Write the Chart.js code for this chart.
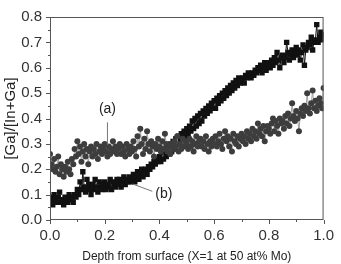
<!DOCTYPE html>
<html>
<head>
<meta charset="utf-8">
<script src="https://cdn.jsdelivr.net/npm/chart.js@4.4.1/dist/chart.umd.min.js"></script>
<style>
  html, body { margin: 0; padding: 0; background: #fff; }
  #wrap { width: 341px; height: 264px; }
</style>
</head>
<body>
<div id="wrap"><canvas id="depthChart" width="341" height="264"></canvas></div>
<script>
// x positions: depth 0.000 .. 1.000 in steps of 0.005
const depth = [];
for (let i = 0; i <= 200; i++) depth.push(i / 200);

// (b) black squares, one row = 0.05 of depth
const seriesB = [
  0.09, 0.08, 0.06, 0.10, 0.08, 0.07, 0.09, 0.11, 0.07, 0.08,
  0.06, 0.09, 0.08, 0.07, 0.10, 0.08, 0.09, 0.07, 0.10, 0.09,
  0.12, 0.10, 0.15, 0.12, 0.19, 0.13, 0.11, 0.16, 0.12, 0.14,
  0.10, 0.14, 0.12, 0.16, 0.13, 0.11, 0.15, 0.13, 0.12, 0.14,
  0.15, 0.12, 0.14, 0.13, 0.16, 0.12, 0.15, 0.14, 0.13, 0.16,
  0.14, 0.16, 0.13, 0.15, 0.17, 0.14, 0.16, 0.15, 0.17, 0.15,
  0.16, 0.18, 0.15, 0.17, 0.19, 0.16, 0.18, 0.20, 0.17, 0.19,
  0.20, 0.18, 0.21, 0.20, 0.22, 0.21, 0.23, 0.22, 0.24, 0.23,
  0.25, 0.23, 0.27, 0.24, 0.28, 0.25, 0.29, 0.26, 0.30, 0.27,
  0.31, 0.28, 0.32, 0.30, 0.33, 0.31, 0.34, 0.32, 0.35, 0.33,
  0.36, 0.34, 0.37, 0.35, 0.39, 0.36, 0.40, 0.37, 0.41, 0.38,
  0.42, 0.39, 0.43, 0.41, 0.44, 0.42, 0.45, 0.43, 0.46, 0.44,
  0.47, 0.44, 0.48, 0.46, 0.49, 0.47, 0.50, 0.48, 0.51, 0.49,
  0.52, 0.50, 0.53, 0.51, 0.54, 0.52, 0.55, 0.53, 0.56, 0.54,
  0.55, 0.56, 0.54, 0.57, 0.56, 0.58, 0.57, 0.56, 0.58, 0.57,
  0.59, 0.58, 0.60, 0.59, 0.61, 0.58, 0.60, 0.62, 0.59, 0.61,
  0.62, 0.60, 0.63, 0.61, 0.64, 0.62, 0.66, 0.63, 0.60, 0.64,
  0.65, 0.62, 0.64, 0.70, 0.66, 0.63, 0.65, 0.67, 0.64, 0.66,
  0.68, 0.65, 0.67, 0.63, 0.66, 0.69, 0.61, 0.67, 0.68, 0.70,
  0.69, 0.72, 0.67, 0.70, 0.71, 0.77, 0.70, 0.72, 0.74, 0.71,
  0.73
];

// (a) grey circles, one row = 0.05 of depth
const seriesA = [
  0.26, 0.22, 0.20, 0.24, 0.19, 0.21, 0.25, 0.18, 0.22, 0.20,
  0.17, 0.21, 0.19, 0.23, 0.20, 0.18, 0.24, 0.22, 0.28, 0.25,
  0.31, 0.26, 0.29, 0.23, 0.27, 0.30, 0.25, 0.28, 0.22, 0.27,
  0.29, 0.25, 0.28, 0.26, 0.30, 0.24, 0.27, 0.29, 0.26, 0.28,
  0.30, 0.27, 0.25, 0.29, 0.26, 0.28, 0.31, 0.27, 0.29, 0.26,
  0.28, 0.30, 0.26, 0.29, 0.27, 0.25, 0.30, 0.28, 0.26, 0.29,
  0.27, 0.31, 0.28, 0.25, 0.33, 0.29, 0.36, 0.30, 0.26, 0.32,
  0.28, 0.35, 0.30, 0.27, 0.31, 0.29, 0.25, 0.30, 0.28, 0.32,
  0.29, 0.27, 0.31, 0.28, 0.34, 0.30, 0.27, 0.29, 0.26, 0.30,
  0.28, 0.31, 0.29, 0.33, 0.27, 0.30, 0.28, 0.32, 0.29, 0.31,
  0.30, 0.28, 0.32, 0.29, 0.31, 0.27, 0.30, 0.33, 0.29, 0.31,
  0.32, 0.29, 0.31, 0.28, 0.33, 0.30, 0.27, 0.31, 0.29, 0.32,
  0.30, 0.33, 0.29, 0.31, 0.34, 0.30, 0.28, 0.32, 0.35, 0.31,
  0.33, 0.29, 0.32, 0.27, 0.34, 0.31, 0.30, 0.33, 0.29, 0.32,
  0.34, 0.31, 0.33, 0.30, 0.35, 0.32, 0.34, 0.31, 0.36, 0.33,
  0.35, 0.32, 0.38, 0.34, 0.36, 0.33, 0.37, 0.31, 0.35, 0.37,
  0.36, 0.34, 0.38, 0.40, 0.35, 0.39, 0.37, 0.34, 0.40, 0.38,
  0.39, 0.36, 0.41, 0.38, 0.42, 0.37, 0.40, 0.46, 0.41, 0.39,
  0.43, 0.40, 0.35, 0.42, 0.44, 0.41, 0.45, 0.43, 0.50, 0.44,
  0.42, 0.46, 0.51, 0.44, 0.47, 0.43, 0.45, 0.48, 0.46, 0.44,
  0.52
];

const xTickLabels = ['0.0', '0.2', '0.4', '0.6', '0.8', '1.0'];
const yTickLabels = ['0.0', '0.1', '0.2', '0.3', '0.4', '0.5', '0.6', '0.7', '0.8'];

// labels with leader lines, in data units
const notes = [
  { text: '(a)', at: [0.21, 0.435], line: [[0.21, 0.385], [0.21, 0.296]] },
  { text: '(b)', at: [0.416, 0.10], line: [[0.302, 0.142], [0.374, 0.113]] }
];

const FONT = "'Liberation Sans', Arial, sans-serif";
const toPoints = (ys) => ys.map((y, i) => ({ x: depth[i], y: y }));

// frame, outward tick marks (major + minor) and annotations
const framePlugin = {
  id: 'frame',
  afterDraw(chart) {
    const ctx = chart.ctx;
    const a = chart.chartArea;
    const xs = chart.scales.x, ys = chart.scales.y;
    ctx.save();
    ctx.strokeStyle = '#555';
    ctx.lineWidth = 1;
    ctx.strokeRect(a.left + 0.5, a.top + 0.5, a.right - a.left - 1, a.bottom - a.top - 1);
    ctx.beginPath();
    for (let i = 0; i <= 10; i++) {
      const px = Math.round(xs.getPixelForValue(i / 10)) + 0.5;
      ctx.moveTo(px, a.bottom);
      ctx.lineTo(px, a.bottom + (i % 2 === 0 ? 4 : 2));
    }
    for (let i = 0; i <= 16; i++) {
      const py = Math.round(ys.getPixelForValue(i * 0.05)) + 0.5;
      ctx.moveTo(a.left, py);
      ctx.lineTo(a.left - (i % 2 === 0 ? 4 : 2), py);
    }
    ctx.stroke();

    ctx.strokeStyle = '#777';
    ctx.fillStyle = '#222';
    ctx.font = '14px ' + FONT;
    ctx.textAlign = 'center';
    ctx.textBaseline = 'middle';
    notes.forEach(n => {
      ctx.beginPath();
      ctx.moveTo(xs.getPixelForValue(n.line[0][0]), ys.getPixelForValue(n.line[0][1]));
      ctx.lineTo(xs.getPixelForValue(n.line[1][0]), ys.getPixelForValue(n.line[1][1]));
      ctx.stroke();
      ctx.fillText(n.text, xs.getPixelForValue(n.at[0]), ys.getPixelForValue(n.at[1]));
    });
    ctx.restore();
  }
};

new Chart(document.getElementById('depthChart'), {
  type: 'scatter',
  data: {
    datasets: [
      {
        label: '(a)',
        data: toPoints(seriesA),
        showLine: true,
        borderColor: '#a0a0a0',
        borderWidth: 1,
        pointStyle: 'circle',
        pointRadius: 3,
        pointBackgroundColor: '#3d3d3d',
        pointBorderColor: '#3d3d3d',
        pointBorderWidth: 0
      },
      {
        label: '(b)',
        data: toPoints(seriesB),
        showLine: true,
        borderColor: '#111',
        borderWidth: 1,
        pointStyle: 'rect',
        pointRadius: 3.8,
        pointBackgroundColor: '#111',
        pointBorderColor: '#111',
        pointBorderWidth: 0
      }
    ]
  },
  options: {
    responsive: false,
    animation: false,
    layout: { padding: { top: 12, right: 10, left: 0, bottom: 0 } },
    plugins: { legend: { display: false }, tooltip: { enabled: false } },
    scales: {
      x: {
        type: 'linear',
        min: 0, max: 1,
        grid: { display: false, drawTicks: false },
        border: { display: false },
        afterBuildTicks: (s) => { s.ticks = xTickLabels.map(t => ({ value: parseFloat(t) })); },
        afterFit: (s) => { s.height = 44; },
        ticks: {
          padding: 7,
          color: '#333',
          font: { family: FONT, size: 15 },
          callback: (v) => xTickLabels.find(t => parseFloat(t) === v)
        },
        title: {
          display: true,
          text: 'Depth from surface (X=1 at 50 at% Mo)',
          color: '#222',
          font: { family: FONT, size: 12 },
          padding: { top: 0, bottom: 0 }
        }
      },
      y: {
        type: 'linear',
        min: 0, max: 0.8,
        grid: { display: false, drawTicks: false },
        border: { display: false },
        afterBuildTicks: (s) => { s.ticks = yTickLabels.map(t => ({ value: parseFloat(t) })); },
        afterFit: (s) => { s.width = 50; },
        ticks: {
          padding: 8,
          color: '#333',
          font: { family: FONT, size: 15 },
          callback: (v) => yTickLabels.find(t => Math.abs(parseFloat(t) - v) < 1e-9)
        },
        title: {
          display: true,
          text: '[Ga]/[In+Ga]',
          color: '#222',
          font: { family: FONT, size: 15 },
          padding: { top: 2, bottom: 0 }
        }
      }
    }
  },
  plugins: [framePlugin]
});
</script>
</body>
</html>
